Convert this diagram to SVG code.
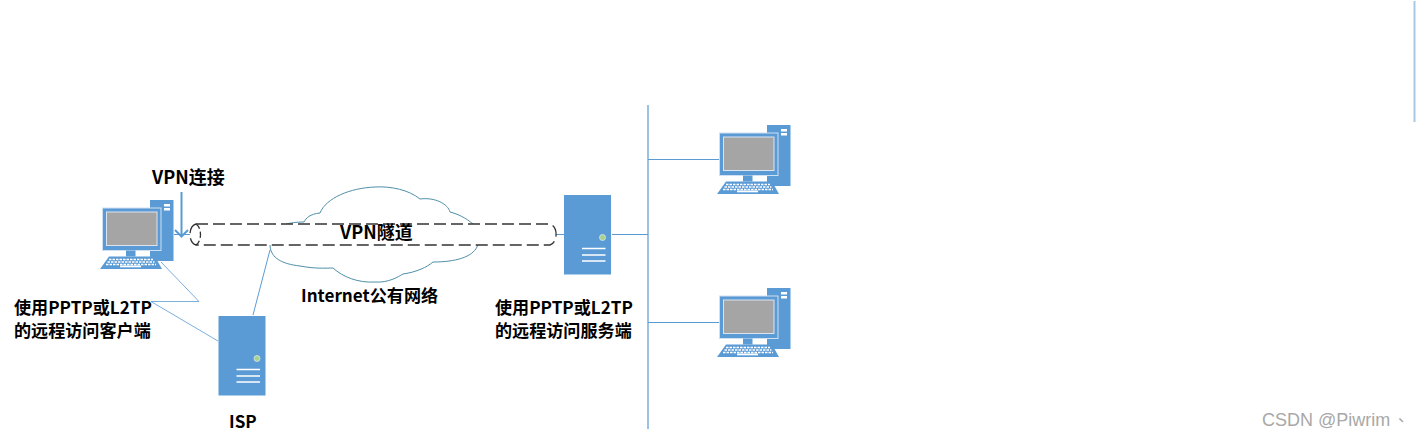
<svg xmlns="http://www.w3.org/2000/svg" width="1417" height="437" viewBox="0 0 1417 437">
<style>
.lbl{font-family:"Noto Sans CJK SC","Noto Sans",sans-serif;font-weight:700;font-size:17.100px;fill:#000}
.big{font-size:18px}
.c{fill:none;stroke:#5b9bd5;stroke-width:1}
.thick{stroke-width:2}
.bar{stroke-width:1.500;stroke-opacity:.8}
.b{fill:#5b9bd5}
.w{fill:none;stroke:#fff;stroke-width:1.500}
</style>
<defs>
<g id="pc">
<rect class="b" x="767" y="125" width="23.500" height="61"/>
<rect x="781" y="129" width="6" height="2.500" fill="#fff"/>
<rect x="781" y="133" width="6" height="2.500" fill="#fff"/>
<rect x="719.500" y="133" width="58.500" height="42.500" fill="#5b9bd5" stroke="#cfe0f2" stroke-width="1"/>
<rect x="723.500" y="137" width="50.500" height="33.500" fill="#a5a5a5" stroke="#dbe5f1" stroke-width="1"/>
<rect class="b" x="743" y="175.500" width="9.500" height="6"/>
<path class="b" d="M726 181.500H772L779 194H717Z"/>
<path d="M726 184.500H770M724.500 187H771.500M723 189.500H773" stroke="#fff" stroke-width="1.500" stroke-dasharray="2.500 1" fill="none"/>
<rect x="737" y="190.500" width="21" height="1.800" fill="#fff"/>
</g>
<g id="srv">
<rect class="b" x="0" y="0" width="47" height="79.500"/>
<circle cx="38.500" cy="42.500" r="3" fill="#a9d18e" stroke="#dbe5f1" stroke-width=".8"/>
<path class="w" d="M18 53.500H41.500M18 60H41.500M18 66H41.500"/>
</g>
</defs>

<g id="cloud">
<path d="M270 246C271 258 282 264 300 266C316 269 326 268 333 268C343 277 358 283 375 282C388 283 398 277 403 274C417 272 427 267 433 262C456 262 472 257 477 247C480 238 476 228 473 224C466 218 458 214 450 212C448 204 435 197 420 199C409 190 391 186 375 187C350 188 326 198 320 213C310 214 306 218 304 222C296 222 290 223 287 224C277 228 270 236 270 246Z" fill="none" stroke="#4f8fa8" stroke-width="1"/>
</g>

<g id="connectors">
<path class="c" d="M161 262L199 301.500H151L218 341" stroke-opacity=".8"/>
<path class="c" d="M253 315L270 250"/>
<path class="c bar" d="M648 105V429"/>
<path class="c" d="M648 159.500H719"/>
<path class="c" d="M648 322.500H719"/>
<path class="c" d="M612 234.500H648"/>
<path class="c" d="M556 234.500H564"/>
<path class="c" d="M174 234.500H190"/>
<path class="c thick" d="M181.500 192V236.500M175 230L181.500 236.500L188 230"/>
</g>

<g id="tunnel">
<path d="M196 224H550C558 226 558 243 550 245H196C188 243 188 226 196 224Z" fill="#fff" stroke="#333" stroke-width="1.300" stroke-dasharray="12 5"/>
<path d="M196 224C202 228 202 241 196 245" fill="none" stroke="#333" stroke-width="1.300" stroke-dasharray="6 3"/>
</g>

<g id="pc-client"><use href="#pc" x="-617" y="75"/></g>
<g id="pc-lan-1"><use href="#pc"/></g>
<g id="pc-lan-2"><use href="#pc" y="163"/></g>
<g id="server-vpn"><use href="#srv" x="564" y="195"/></g>
<g id="server-isp"><use href="#srv" x="218.500" y="316"/></g>

<g id="labels">
<text class="lbl big" x="152" y="183.500">VPN连接</text>
<text class="lbl big" x="340" y="238.500">VPN隧道</text>
<text class="lbl" x="301" y="301.500">Internet公有网络</text>
<text class="lbl" x="14" y="314">使用PPTP或L2TP</text>
<text class="lbl" x="14" y="337">的远程访问客户端</text>
<text class="lbl" x="495" y="314">使用PPTP或L2TP</text>
<text class="lbl" x="495" y="337">的远程访问服务端</text>
<text class="lbl" x="229" y="428">ISP</text>
</g>

<path id="scroll-edge" d="M1414.500 1V122" stroke="#a9c8e6" stroke-width="2" fill="none"/>
<text id="watermark" x="1262" y="426" font-family="Liberation Sans,sans-serif" font-size="18" fill="#a8a8a8">CSDN @Piwrim</text>
<text x="1398" y="421" font-family="Noto Sans CJK SC,sans-serif" font-size="16" fill="#a8a8a8">、</text>
</svg>
